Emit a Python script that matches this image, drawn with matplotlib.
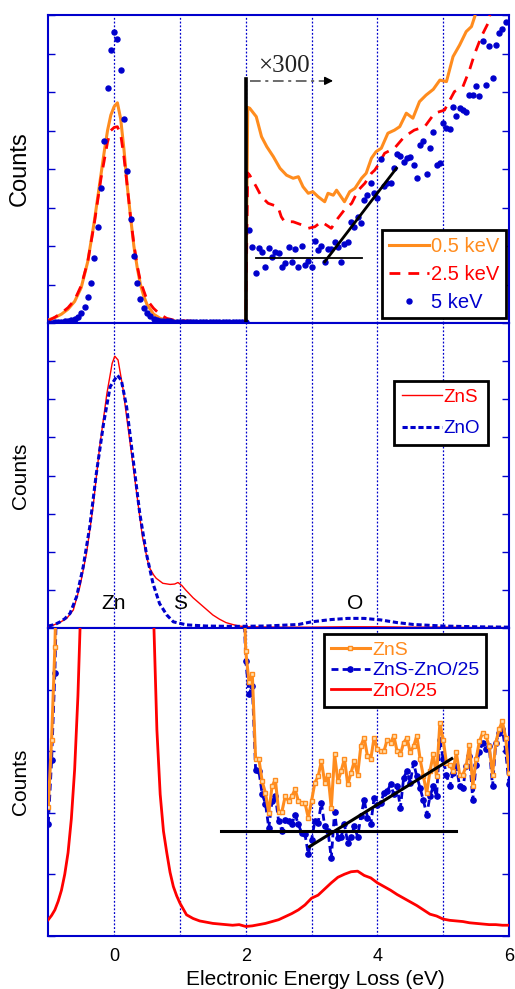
import numpy as np
import matplotlib
matplotlib.use("Agg")
import matplotlib.pyplot as plt

plt.rcParams['font.family'] = ['Liberation Sans', 'DejaVu Sans']

BLUE = '#0000CC'
ORANGE = '#FF8C1E'
RED = '#FF0000'

# ---------------- top panel: beam energies ----------------
x_05kev = [-1.0, -0.9, -0.8, -0.7, -0.6, -0.5, -0.4, -0.3, -0.2, -0.15, -0.1, -0.05, 0.0, 0.05,
           0.1, 0.15, 0.2, 0.25, 0.3, 0.35, 0.4, 0.45, 0.5, 0.6, 0.7, 0.8, 1.0, 1.3, 1.6, 1.9, 2.0,
           2.03, 2.06, 2.16, 2.24, 2.32, 2.42, 2.52, 2.62, 2.72, 2.8, 2.87, 2.95, 3.02, 3.1, 3.2,
           3.25, 3.33, 3.38, 3.5, 3.58, 3.66, 3.76, 3.83, 3.91, 3.98, 4.06, 4.16, 4.26, 4.34, 4.44,
           4.54, 4.64, 4.74, 4.85, 4.95, 5.05, 5.15, 5.25, 5.35, 5.43, 5.48, 5.52]
y_05kev = [0.08, 0.14, 0.23, 0.36, 0.56, 0.92, 1.6, 2.65, 3.85, 4.45, 5.0, 5.4, 5.62, 5.72,
           5.3, 4.5, 3.55, 2.75, 2.0, 1.45, 1.0, 0.7, 0.48, 0.23, 0.12, 0.07, 0.04, 0.03, 0.03, 0.03, 0.03,
           5.6, 5.58, 5.36, 4.84, 4.58, 4.32, 4.02, 3.84, 3.76, 3.8, 3.54, 3.37, 3.41, 3.28, 3.15,
           3.37, 3.32, 3.45, 3.15, 3.41, 3.5, 3.76, 3.89, 4.28, 4.45, 4.54, 4.93, 5.01, 5.1, 5.45,
           5.32, 5.75, 5.92, 6.07, 6.31, 6.27, 6.92, 7.22, 7.57, 7.7, 7.96, 8.3]

x_25kev = [-1.0, -0.9, -0.8, -0.7, -0.6, -0.5, -0.4, -0.3, -0.2, -0.1, -0.05, 0.0, 0.05, 0.1,
           0.15, 0.2, 0.25, 0.3, 0.35, 0.4, 0.5, 0.6, 0.7, 0.8, 0.9, 1.0, 1.3, 1.6, 1.9, 2.0,
           2.03, 2.06, 2.16, 2.24, 2.34, 2.49, 2.54, 2.59, 2.72, 2.85, 2.95, 3.05, 3.15, 3.3, 3.4,
           3.5, 3.61, 3.71, 3.81, 3.91, 3.96, 4.01, 4.11, 4.26, 4.41, 4.56, 4.72, 4.87, 5.02, 5.17,
           5.3, 5.4, 5.48, 5.58, 5.68, 5.75]
y_25kev = [0.06, 0.15, 0.26, 0.4, 0.6, 0.97, 1.6, 2.6, 3.75, 4.7, 5.0, 5.08, 5.1, 4.9,
           4.3, 3.55, 2.75, 2.05, 1.5, 1.08, 0.6, 0.38, 0.22, 0.12, 0.08, 0.06, 0.04, 0.03, 0.03, 0.03,
           3.9, 3.84, 3.54, 3.28, 3.11, 3.02, 2.76, 2.63, 2.63, 2.55, 2.46, 2.5, 2.63, 2.46, 2.72,
           2.94, 3.11, 3.45, 3.63, 3.89, 3.97, 4.1, 4.41, 4.54, 4.84, 5.01, 5.1, 5.45, 5.53, 6.01,
           6.14, 6.57, 7.0, 7.44, 7.78, 8.3]

energy_5kev = np.round(np.arange(-1.0, 5.951, 0.05), 2)
y_5kev = [0.01, 0.01, 0.02, 0.02, 0.03, 0.04, 0.05, 0.07, 0.1, 0.15,
          0.25, 0.42, 0.68, 1.05, 1.69, 2.49, 3.51, 4.74, 6.1, 7.09,
          7.57, 7.38, 6.56, 5.29, 3.96, 2.69, 1.75, 1.03, 0.62, 0.38,
          0.25, 0.17, 0.11, 0.08, 0.06, 0.05, 0.04, 0.04, 0.03, 0.03,
          0.03, 0.03, 0.02, 0.03, 0.02, 0.02, 0.03, 0.02, 0.02, 0.02,
          0.03, 0.02, 0.02, 0.02, 0.03, 0.02, 0.02, 0.02, 0.02, 0.03, 0.03,
          2.42, 1.98, 1.29, 1.94, 1.85, 1.46, 1.94, 1.71, 1.85, 1.83,
          1.46, 1.57, 1.98, 1.59, 1.91, 1.46, 2.00, 1.50, 1.62, 1.46,
          2.14, 1.90, 2.00, 1.59, 1.91, 1.91, 2.10, 1.98, 1.59, 2.05,
          2.11, 2.63, 2.50, 2.76, 2.59, 3.19, 3.32, 3.63, 3.37, 3.26,
          4.25, 3.56, 3.64, 3.64, 4.02, 4.38, 4.34, 4.19, 4.28, 4.32,
          4.10, 3.77, 4.62, 4.74, 3.86, 4.55, 4.97, 4.10, 4.16, 5.19,
          5.06, 5.03, 5.60, 5.39, 5.58, 5.53, 5.49, 5.92, 5.92, 6.16,
          5.90, 7.33, 6.18, 7.19, 6.37, 7.22, 7.54, 7.65, 7.81]

fit1_flat_x = [2.16, 3.77]
fit1_flat_y = [1.68, 1.68]
fit1_slope_x = [3.2, 4.29]
fit1_slope_y = [1.59, 4.02]
scale_bar_x = [2.0, 2.0]
scale_bar_y = [0.0, 6.34]

# ---------------- middle panel: ZnS vs ZnO ----------------
x_zns = [-1.0, -0.9, -0.8, -0.72, -0.62, -0.52, -0.42, -0.32, -0.22, -0.11, -0.03, 0.01, 0.06,
         0.13, 0.23, 0.33, 0.43, 0.53, 0.6, 0.64, 0.74, 0.85, 0.92, 0.97, 1.03, 1.09, 1.2, 1.3,
         1.4, 1.5, 1.6, 1.7, 1.8, 1.9, 2.0, 2.5, 3.0, 3.5, 4.0, 4.5, 5.0, 5.5, 6.0]
y_zns = [0.04, 0.1, 0.18, 0.26, 0.48, 1.09, 1.96, 3.18, 4.75, 6.15, 6.94, 7.13, 7.03,
         6.33, 5.02, 3.71, 2.4, 1.61, 1.4, 1.31, 1.18, 1.15, 1.16, 1.2, 1.12, 1.0, 0.8, 0.65,
         0.5, 0.35, 0.24, 0.15, 0.1, 0.06, 0.04, 0.03, 0.03, 0.04, 0.04, 0.03, 0.03, 0.02, 0.02]
x_zno = [-1.0, -0.9, -0.82, -0.75, -0.67, -0.57, -0.47, -0.37, -0.27, -0.16, -0.06, 0.05, 0.11,
         0.19, 0.29, 0.39, 0.49, 0.59, 0.69, 0.8, 0.9, 1.1, 1.4, 1.8, 2.3, 2.8, 3.0, 3.3, 3.55,
         3.8, 4.05, 4.3, 4.55, 5.0, 5.5, 6.0]
y_zno = [0.06, 0.1, 0.17, 0.25, 0.39, 0.83, 1.61, 2.66, 4.06, 5.37, 6.33, 6.63, 6.5,
         5.8, 4.41, 3.01, 1.96, 1.18, 0.65, 0.35, 0.17, 0.09, 0.06, 0.05, 0.06, 0.1, 0.17, 0.23, 0.26,
         0.26, 0.22, 0.15, 0.1, 0.06, 0.04, 0.03]
peak_labels = ['Zn', 'S', 'O']
peak_x = [0.0, 1.0, 3.66]
peak_y = [0.66, 0.66, 0.66]

# ---------------- bottom panel: difference spectrum ----------------
x_diff = [-1.0, -0.95, -0.9, -0.85, 1.95] + list(np.round(np.arange(2.0, 6.001, 0.05), 2))
y_zns_b = [2.1, 3.19, 4.69, 7.0, 6.5,
           4.63, 4.12, 4.25, 2.87, 2.87, 2.51, 2.32, 2.00, 2.43, 2.54,
           2.02, 2.02, 2.27, 2.19, 2.27, 2.38, 2.19, 2.16, 2.16, 1.92,
           2.19, 2.49, 2.59, 2.84, 2.49, 2.62, 2.08, 2.95, 2.51, 2.68,
           2.88, 2.46, 2.65, 2.84, 2.62, 3.09, 3.22, 2.92, 2.87, 3.22,
           3.03, 3.00, 3.00, 3.19, 3.14, 3.25, 3.00, 2.95, 3.14, 3.22,
           2.98, 3.08, 3.25, 2.87, 2.59, 2.32, 2.68, 2.95, 2.59, 3.46,
           3.19, 2.81, 2.78, 2.68, 2.98, 2.62, 2.62, 2.76, 3.11, 2.43,
           2.87, 3.16, 3.30, 3.25, 3.08, 2.62, 3.14, 3.36, 3.49, 3.22, 2.65]
y_diff_b = [1.82, 2.85, 4.28, 6.5, 6.0,
            4.47, 3.93, 4.06, 2.70, 2.68, 2.30, 2.15, 1.75, 2.19, 2.28,
            1.86, 1.71, 1.89, 1.86, 1.81, 1.97, 1.81, 1.67, 1.65, 1.33,
            1.56, 1.86, 1.84, 2.16, 1.78, 1.70, 1.26, 2.02, 1.59, 1.61,
            1.81, 1.51, 1.61, 1.78, 1.61, 1.94, 2.21, 1.92, 1.81, 2.24,
            2.13, 2.16, 2.32, 2.35, 2.46, 2.30, 2.43, 2.08, 2.57, 2.68,
            2.49, 2.81, 2.59, 2.40, 2.20, 1.97, 2.27, 2.43, 2.27, 3.19,
            2.87, 2.62, 2.43, 2.65, 2.76, 2.43, 2.40, 2.76, 2.92, 2.21,
            2.78, 2.98, 3.14, 3.03, 3.08, 2.43, 3.14, 3.30, 3.36, 3.00, 2.47]
x_zno25 = [-1.0, -0.95, -0.9, -0.85, -0.8, -0.75, -0.7, -0.65, -0.6, -0.55, -0.5, -0.3, 0.0, 0.3,
           0.55, 0.6, 0.65, 0.7, 0.75, 0.8, 0.85, 0.9, 0.95, 1.0, 1.1, 1.2, 1.3, 1.4, 1.5, 1.6,
           1.7, 1.8, 1.9, 2.0, 2.1, 2.2, 2.3, 2.4, 2.5, 2.6, 2.7, 2.8, 2.9, 3.0, 3.1, 3.2, 3.3,
           3.4, 3.5, 3.6, 3.7, 3.8, 3.9, 4.0, 4.1, 4.2, 4.3, 4.4, 4.5, 4.6, 4.7, 4.8, 4.9, 5.0,
           5.1, 5.2, 5.3, 5.4, 5.5, 5.6, 5.7, 5.8, 5.9, 6.0]
y_zno25 = [0.26, 0.33, 0.42, 0.56, 0.74, 1.0, 1.35, 1.9, 2.7, 3.9, 5.6, 15.0, 26.0, 15.0,
           6.0, 5.2, 3.35, 2.3, 1.7, 1.35, 1.03, 0.8, 0.65, 0.53, 0.34, 0.28, 0.24, 0.22, 0.2, 0.19,
           0.18, 0.17, 0.18, 0.15, 0.16, 0.18, 0.2, 0.23, 0.26, 0.31, 0.36, 0.42, 0.5, 0.61, 0.66,
           0.76, 0.86, 0.95, 1.0, 1.04, 1.05, 0.98, 0.94, 0.86, 0.8, 0.74, 0.67, 0.61, 0.55, 0.49,
           0.42, 0.35, 0.32, 0.27, 0.25, 0.24, 0.23, 0.21, 0.2, 0.19, 0.18, 0.18, 0.17, 0.17]
fit3_flat_x = [1.63, 5.19]
fit3_flat_y = [1.71, 1.71]
fit3_slope_x = [2.97, 5.13]
fit3_slope_y = [1.45, 2.88]

xtick_vals = [0, 2, 4, 6]
grid_x = [0, 1, 2, 3, 4, 5]

# ---------------- figure ----------------
fig = plt.figure(figsize=(5.15, 9.89), dpi=100)
L, W = 0.0938, 0.8945
ax1 = fig.add_axes([L, 0.6734, W, 0.3114])
ax2 = fig.add_axes([L, 0.3647, W, 0.3087])
ax3 = fig.add_axes([L, 0.0539, W, 0.3108])


def style(ax, ymax, lab_size):
    ax.set_xlim(-1, 6)
    ax.set_ylim(0, ymax)
    for s in ax.spines.values():
        s.set_color(BLUE)
        s.set_linewidth(1.5)
    ax.set_yticks(range(0, ymax + 1))
    ax.tick_params(axis='y', direction='in', left=True, right=True, labelleft=False,
                   length=5, width=1, color=BLUE)
    ax.tick_params(axis='x', length=0)
    for g in grid_x:
        ax.axvline(g, color=BLUE, ls=(0, (1.5, 1.5)), lw=0.9, zorder=0)
    ax.set_ylabel('Counts', fontsize=lab_size)
    ax.yaxis.set_label_coords(-0.039, 0.5)


style(ax1, 8, 17)
style(ax2, 8, 15)
style(ax3, 5, 15)
ax1.set_xticks([])
ax2.set_xticks([])

# top
ax1.plot(x_05kev, y_05kev, color=ORANGE, lw=2.2, label='0.5 keV', zorder=3)
ax1.plot(x_25kev, y_25kev, color=RED, lw=2.0, ls=(0, (3.9, 2.9)), label='2.5 keV', zorder=4)
ax1.plot(energy_5kev, y_5kev, ls='none', marker='o', ms=3.6, color=BLUE, mec=BLUE,
         label='5 keV', zorder=5)
ax1.plot(scale_bar_x, scale_bar_y, color='k', lw=2.6, zorder=6)
ax1.plot(fit1_flat_x, fit1_flat_y, color='k', lw=1.3, zorder=6)
ax1.plot(fit1_slope_x, fit1_slope_y, color='k', lw=2.0, zorder=6)
ax1.text(2.58, 6.68, '×300', ha='center', va='center', fontsize=18,
         family=['Liberation Serif', 'DejaVu Serif'], color='#222222')
ax1.plot([2.06, 3.25], [6.29, 6.29], color='#444444', lw=1.1, ls=(0, (7, 3, 2, 3)))
ax1.annotate('', xy=(3.37, 6.29), xytext=(3.2, 6.29),
             arrowprops=dict(arrowstyle='-|>', color='k', lw=1.1, mutation_scale=12))
leg1 = ax1.legend(loc='lower right', bbox_to_anchor=(0.993, 0.015), borderaxespad=0,
                  fontsize=14.5, handlelength=2.0, handletextpad=0.1, labelspacing=0.45,
                  fancybox=False, edgecolor='k', framealpha=1, labelcolor='linecolor',
                  borderpad=0.33)
leg1.get_frame().set_linewidth(2)

# middle
ax2.plot(x_zns, y_zns, color=RED, lw=1.0, label='ZnS', zorder=3)
ax2.plot(x_zno, y_zno, color=BLUE, lw=2.2, ls=(0, (1.7, 0.9)), label='ZnO', zorder=4)
for lab, px, py in zip(peak_labels, peak_x, peak_y):
    ax2.text(px, py, lab, ha='center', va='center', fontsize=15)
leg2 = ax2.legend(loc='upper right', bbox_to_anchor=(0.954, 0.81), borderaxespad=0,
                  fontsize=13.5, handlelength=2.1, handletextpad=0.1, labelspacing=0.75,
                  fancybox=False, edgecolor='k', framealpha=1, labelcolor='linecolor',
                  borderpad=0.42)
leg2.get_frame().set_linewidth(2)

# bottom
ax3.plot(x_diff, y_zns_b, color=ORANGE, lw=2.2, marker='s', ms=3.5, mfc='#FFE0B0',
         mec=ORANGE, mew=1, label='ZnS', zorder=4)
ax3.plot(x_diff, y_diff_b, color=BLUE, lw=2.0, ls=(0, (2.5, 1.5)), marker='o', ms=3.8,
         mec=BLUE, label='ZnS-ZnO/25', zorder=3)
ax3.plot(x_zno25, y_zno25, color=RED, lw=2.0, label='ZnO/25', zorder=3)
ax3.plot(fit3_flat_x, fit3_flat_y, color='k', lw=2.2, zorder=6)
ax3.plot(fit3_slope_x, fit3_slope_y, color='k', lw=2.2, zorder=6)
ax3.set_xticks(xtick_vals)
ax3.set_xticklabels([str(v) for v in xtick_vals], fontsize=13)
ax3.tick_params(axis='x', pad=9)
ax3.set_xlabel('Electronic Energy Loss (eV)', fontsize=15)
ax3.xaxis.set_label_coords(0.58, -0.112)
leg3 = ax3.legend(loc='upper right', bbox_to_anchor=(0.95, 0.98), borderaxespad=0,
                  fontsize=14, handlelength=2.0, handletextpad=0.1, labelspacing=0.15,
                  fancybox=False, edgecolor='k', framealpha=1, labelcolor='linecolor',
                  borderpad=0.35)
leg3.get_frame().set_linewidth(2)

fig.savefig('out.png', dpi=100)
